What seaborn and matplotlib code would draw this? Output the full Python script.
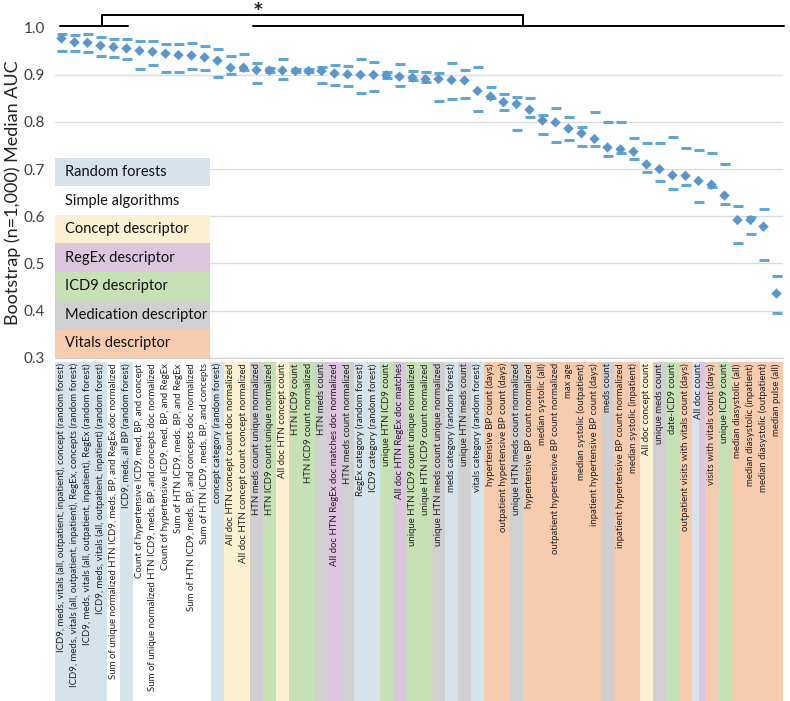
import numpy as np
import pandas as pd
import matplotlib
matplotlib.use('Agg')
import matplotlib.pyplot as plt
import matplotlib.transforms as mtransforms
from matplotlib.patches import Rectangle
import seaborn as sns

sns.set_style("white")
plt.rcParams['font.family'] = ['Lato', 'DejaVu Sans']

# Etiquetas del eje x (una por algoritmo)
etiquetas = [
    "ICD9, meds, vitals (all, outpatient, inpatient), concept (random forest)",
    "ICD9, meds, vitals (all, outpatient, inpatient), RegEx, concepts (random forest)",
    "ICD9, meds, vitals (all, outpatient, inpatient), RegEx (random forest)",
    "ICD9, meds, vitals (all, outpatient, inpatient) (random forest)",
    "Sum of unique normalized HTN ICD9, meds, BP, and RegEx doc normalized",
    "ICD9, meds, all BP (random forest)",
    "Count of hypertensive ICD9, med, BP, and concept",
    "Sum of unique normalized HTN ICD9, meds, BP, and concepts doc normalized",
    "Count of hypertensive ICD9, med, BP, and RegEx",
    "Sum of HTN ICD9, meds, BP, and RegEx",
    "Sum of HTN ICD9, meds, BP, and concepts doc normalized",
    "Sum of HTN ICD9, meds, BP, and concepts",
    "concept category (random forest)",
    "All doc HTN concept count doc normalized",
    "All doc HTN concept count concept normalized",
    "HTN meds count unique normalized",
    "HTN ICD9 count unique normalized",
    "All doc HTN concept count",
    "HTN ICD9 count",
    "HTN ICD9 count normalized",
    "HTN meds count",
    "All doc HTN RegEx doc matches doc normalized",
    "HTN meds count normalized",
    "RegEx category (random forest)",
    "ICD9 category (random forest)",
    "unique HTN ICD9 count",
    "All doc HTN RegEx doc matches",
    "unique HTN ICD9 count unique normalized",
    "unique HTN ICD9 count normalized",
    "unique HTN meds count unique normalized",
    "meds category (random forest)",
    "unique HTN meds count",
    "vitals category (random forest)",
    "hypertensive BP count (days)",
    "outpatient hypertensive BP count (days)",
    "unique HTN meds count normalized",
    "hypertensive BP count normalized",
    "median systolic (all)",
    "outpatient hypertensive BP count normalized",
    "max age",
    "median systolic (outpatient)",
    "inpatient hypertensive BP count (days)",
    "meds count",
    "inpatient hypertensive BP count normalized",
    "median systolic (inpatient)",
    "All doc concept count",
    "unique meds count",
    "date-ICD9 count",
    "outpatient visits with vitals count (days)",
    "All doc count",
    "visits with vitals count (days)",
    "unique ICD9 count",
    "median diasystolic (all)",
    "median diasystolic (inpatient)",
    "median diasystolic (outpatient)",
    "median pulse (all)",
]

# Grupo de cada algoritmo (F=random forest, S=simple, C=concept, R=RegEx,
# I=ICD9, M=medication, V=vitals); "F+R" = celda con dos colores
grupos = [
    "F", "F", "F", "F", "S", "F", "S", "S", "S", "S", "S", "S", "F", "C",
    "C", "M", "I", "C", "I", "I", "M", "R", "M", "F", "F", "I", "R", "I",
    "I", "M", "F", "M", "F", "V", "V", "M", "V", "V", "V", "V", "V", "V",
    "M", "V", "V", "C", "M", "I", "V", "F+R", "V", "I", "V", "V", "V", "V",
]

mediana = [
    0.977, 0.969, 0.968, 0.962, 0.959, 0.956, 0.951, 0.949, 0.945, 0.942,
    0.941, 0.937, 0.930, 0.915, 0.915, 0.910, 0.909, 0.909, 0.908, 0.908,
    0.908, 0.903, 0.901, 0.900, 0.900, 0.899, 0.896, 0.894, 0.891, 0.891,
    0.889, 0.888, 0.866, 0.854, 0.842, 0.838, 0.826, 0.803, 0.799, 0.786,
    0.776, 0.764, 0.746, 0.742, 0.737, 0.710, 0.700, 0.687, 0.686, 0.675,
    0.667, 0.644, 0.592, 0.592, 0.578, 0.436,
]

superior = [
    0.986, 0.985, 0.986, 0.981, 0.977, 0.975, 0.971, 0.971, 0.966, 0.966,
    0.967, 0.961, 0.954, 0.939, 0.944, 0.925, 0.914, 0.934, 0.913, 0.913,
    0.917, 0.921, 0.919, 0.934, 0.928, 0.906, 0.922, 0.908, 0.905, 0.904,
    0.926, 0.910, 0.917, 0.874, 0.859, 0.854, 0.851, 0.815, 0.829, 0.811,
    0.789, 0.821, 0.800, 0.800, 0.766, 0.756, 0.755, 0.768, 0.745, 0.740,
    0.734, 0.711, 0.621, 0.598, 0.616, 0.474,
]

inferior = [
    0.951, 0.951, 0.949, 0.939, 0.937, 0.934, 0.912, 0.920, 0.907, 0.907,
    0.912, 0.911, 0.896, 0.902, 0.910, 0.883, 0.905, 0.891, 0.905, 0.905,
    0.882, 0.879, 0.876, 0.861, 0.866, 0.894, 0.876, 0.889, 0.885, 0.845,
    0.848, 0.850, 0.824, 0.850, 0.825, 0.784, 0.810, 0.775, 0.758, 0.762,
    0.749, 0.750, 0.727, 0.735, 0.722, 0.694, 0.674, 0.657, 0.667, 0.631,
    0.663, 0.626, 0.544, 0.562, 0.508, 0.394,
]

leyenda = ["Random forests", "Simple algorithms", "Concept descriptor",
           "RegEx descriptor", "ICD9 descriptor", "Medication descriptor",
           "Vitals descriptor"]
leyenda_grupos = ["F", "S", "C", "R", "I", "M", "V"]

colores = {
    "F": "#d6e3eb",
    "S": "#ffffff",
    "C": "#fcf0d2",
    "R": "#dcc6dd",
    "I": "#c7e1b6",
    "M": "#d0d0d0",
    "V": "#f6cbae",
}


def graficar():
    df = pd.DataFrame({
        "x": np.arange(len(mediana)),
        "mediana": mediana,
        "superior": superior,
        "inferior": inferior,
    })
    n = len(df)

    fig = plt.figure(figsize=(7.9, 7.01), dpi=100)
    ax = fig.add_axes([55 / 790, 1 - 357.7 / 701, 728 / 790, 330 / 701])

    # Limites del intervalo (guiones) y mediana (rombos)
    for col in ["superior", "inferior"]:
        sns.scatterplot(data=df, x="x", y=col, marker="_", s=60,
                        color="#5fa8d6", linewidth=2.2, ax=ax, zorder=3)
    sns.scatterplot(data=df, x="x", y="mediana", marker="D", s=28,
                    color="#5b96cb", edgecolor="none", ax=ax, zorder=4)

    ax.set_xlim(-0.5, n - 0.5)
    ax.set_ylim(0.3, 1.0)
    ax.set_yticks(np.arange(0.3, 1.01, 0.1))
    ax.set_yticklabels([f"{v:.1f}" for v in np.arange(0.3, 1.01, 0.1)],
                       fontsize=11, color="#404040")
    ax.yaxis.grid(True, color="#dcdcdc", linewidth=1)
    ax.yaxis.get_gridlines()[-1].set_visible(False)
    ax.tick_params(axis="y", length=0, pad=7)

    ax.set_xticks(df["x"])
    ax.set_xticklabels(etiquetas, rotation=90, fontsize=6.9, color="#222222")
    ax.tick_params(axis="x", length=0, pad=4)
    ax.set_xlabel("")
    ax.set_ylabel("Bootstrap (n=1,000) Median AUC", fontsize=13,
                  color="#222222", labelpad=2)

    for lado in ["top", "right", "left"]:
        ax.spines[lado].set_visible(False)
    ax.spines["bottom"].set_color("#d0d0d0")

    # Franjas de color detras de las etiquetas
    mezcla = mtransforms.blended_transform_factory(ax.transData, ax.transAxes)
    y0 = (357.7 - 701) / 330
    alto = (357.7 - 362) / 330 - y0
    for i, g in enumerate(grupos):
        partes = g.split("+")
        ancho = 1.0 / len(partes)
        for k, p in enumerate(partes):
            ax.add_patch(Rectangle((i - 0.5 + k * ancho, y0), ancho, alto,
                                   transform=mezcla, facecolor=colores[p],
                                   edgecolor="none", clip_on=False, zorder=0.1))

    # Cuadro de leyenda dentro del grafico
    alto_fila = 0.0606
    for j, (texto, g) in enumerate(zip(leyenda, leyenda_grupos)):
        ybase = 0.3 + (len(leyenda) - 1 - j) * alto_fila
        ax.add_patch(Rectangle((-0.5, ybase), 11.95, alto_fila,
                               facecolor=colores[g], edgecolor="none", zorder=2))
        ax.text(0.27, ybase + alto_fila / 2, texto, fontsize=10.5,
                color="#111111", va="center", ha="left", zorder=3)

    # Corchetes de significancia
    lc = dict(color="black", linewidth=1.4, clip_on=False, zorder=5)
    yb = 1.004
    yt = 1.027
    ax.plot([-0.08, 5.15], [yb, yb], **lc)
    ax.plot([14.7, n - 0.4], [yb, yb], **lc)
    ax.plot([3.1, 3.1, 35.5, 35.5], [yb, yt, yt, yb], **lc)
    ax.text(15.1, 1.014, "*", fontsize=18, ha="center", va="baseline",
            fontweight="bold", clip_on=False)

    fig.savefig("out.png", dpi=100)
    plt.close(fig)


if __name__ == "__main__":
    graficar()
